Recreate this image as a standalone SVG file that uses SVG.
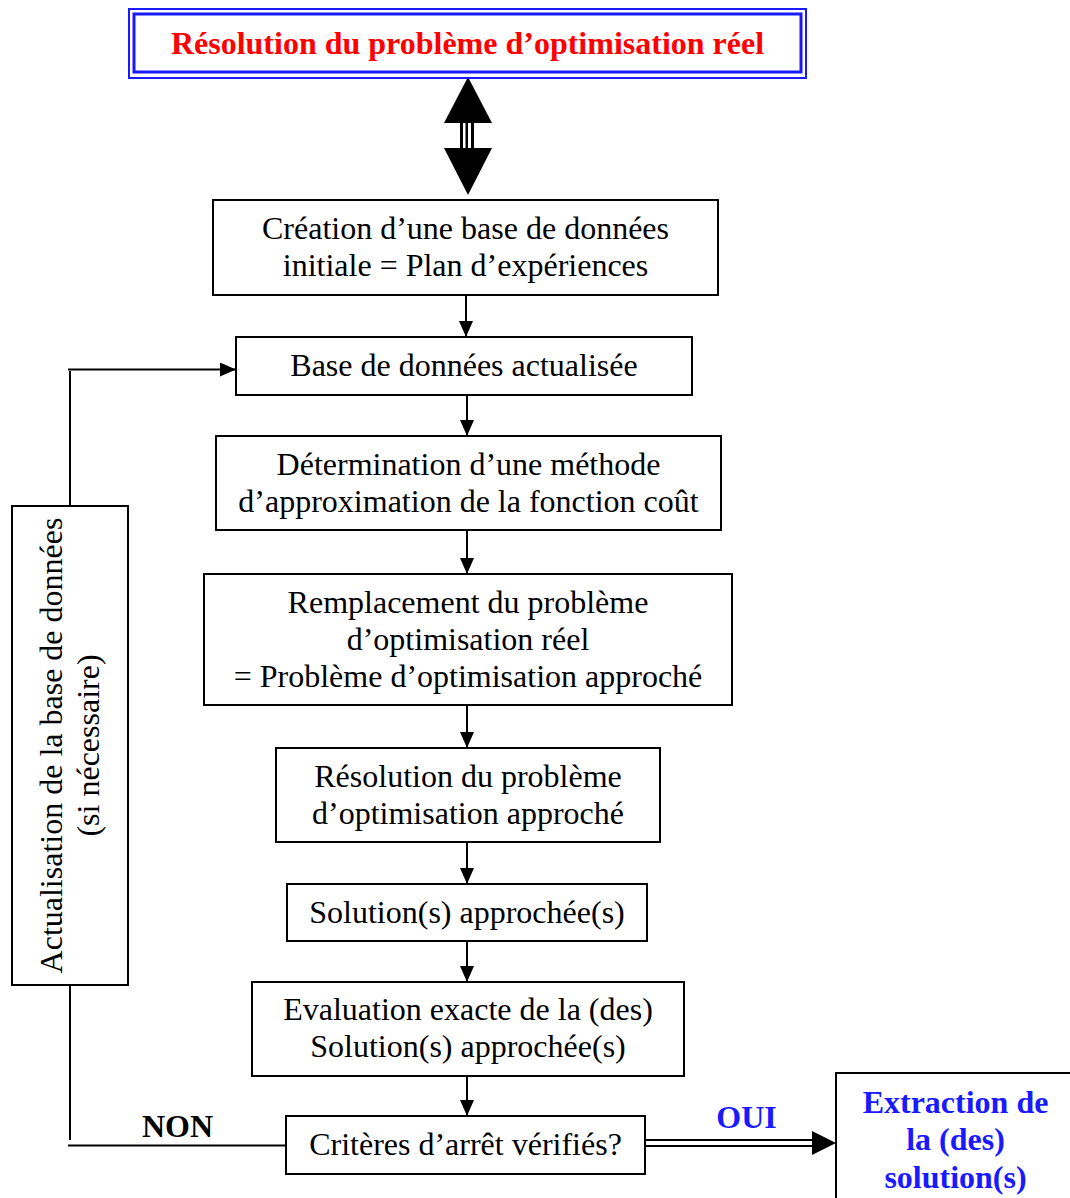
<svg xmlns="http://www.w3.org/2000/svg" width="1070" height="1198" viewBox="0 0 1070 1198">
<style>
  .box { fill: #ffffff; stroke: #000000; stroke-width: 2; }
  .t { font-family: "Liberation Serif", "Times New Roman", serif; font-size: 32px; fill: #000000; text-anchor: middle; }
  .b { font-weight: bold; }
  .red { fill: #ff0000; }
  .blue { fill: #1a1aff; }
  .line { fill: none; stroke: #000000; stroke-width: 2; }
  .head { fill: #000000; }
</style>
<defs>
  <marker id="arr" markerUnits="userSpaceOnUse" markerWidth="16" markerHeight="14" refX="16" refY="7" orient="auto">
    <path d="M0,0 L16,7 L0,14 z" fill="#000000"/>
  </marker>
</defs>
<rect width="1070" height="1198" fill="#ffffff"/>

<g id="connectors">
  <!-- double-headed arrow between title and first box -->
  <polygon class="head" points="468,77 444,123 492,123"/>
  <rect class="head" x="460" y="123" width="3" height="26"/>
  <rect class="head" x="465.5" y="123" width="2.5" height="26"/>
  <rect class="head" x="471" y="123" width="3" height="26"/>
  <polygon class="head" points="444,148 492,148 468,195"/>
  <!-- main flow -->
  <line class="line" x1="466" y1="295" x2="466" y2="337" marker-end="url(#arr)"/>
  <line class="line" x1="467" y1="395" x2="467" y2="436" marker-end="url(#arr)"/>
  <line class="line" x1="467" y1="530" x2="467" y2="574" marker-end="url(#arr)"/>
  <line class="line" x1="467" y1="705" x2="467" y2="748" marker-end="url(#arr)"/>
  <line class="line" x1="467" y1="842" x2="467" y2="884" marker-end="url(#arr)"/>
  <line class="line" x1="467" y1="941" x2="467" y2="982" marker-end="url(#arr)"/>
  <line class="line" x1="467" y1="1076" x2="467" y2="1116" marker-end="url(#arr)"/>
  <!-- feedback loop -->
  <line class="line" x1="70" y1="506" x2="70" y2="371"/>
  <line class="line" x1="68" y1="369.5" x2="236" y2="369.5" marker-end="url(#arr)"/>
  <line class="line" x1="70" y1="985" x2="70" y2="1140"/>
  <line class="line" x1="68" y1="1145.5" x2="286" y2="1145.5"/>
  <!-- OUI double arrow -->
  <line class="line" x1="645" y1="1140" x2="814" y2="1140"/>
  <line class="line" x1="645" y1="1146" x2="814" y2="1146"/>
  <polygon class="head" points="812,1131 836,1143 812,1155"/>
  <text class="t b" x="177.5" y="1137">NON</text>
  <text class="t b blue" x="746.5" y="1128">OUI</text>
</g>

<g id="title">
  <rect x="129" y="9" width="677" height="69" fill="#ffffff" stroke="#1a1aff" stroke-width="2"/>
  <rect x="134" y="14" width="667" height="58" fill="none" stroke="#1a1aff" stroke-width="3"/>
  <text class="t b red" x="467.5" y="54">Résolution du problème d’optimisation réel</text>
</g>

<g id="n1">
  <rect class="box" x="213" y="200" width="505" height="95"/>
  <text class="t" x="465.5" y="239">Création d’une base de données</text>
  <text class="t" x="465.5" y="276">initiale = Plan d’expériences</text>
</g>

<g id="n2">
  <rect class="box" x="236" y="337" width="456" height="58"/>
  <text class="t" x="464" y="376">Base de données actualisée</text>
</g>

<g id="n3">
  <rect class="box" x="216" y="436" width="505" height="94"/>
  <text class="t" x="468.5" y="474.5">Détermination d’une méthode</text>
  <text class="t" x="468.5" y="511.5">d’approximation de la fonction coût</text>
</g>

<g id="n4">
  <rect class="box" x="204" y="574" width="528" height="131"/>
  <text class="t" x="468" y="612.5">Remplacement du problème</text>
  <text class="t" x="468" y="649.5">d’optimisation réel</text>
  <text class="t" x="468" y="686.5">= Problème d’optimisation approché</text>
</g>

<g id="n5">
  <rect class="box" x="276" y="748" width="384" height="94"/>
  <text class="t" x="468" y="786.5">Résolution du problème</text>
  <text class="t" x="468" y="823.5">d’optimisation approché</text>
</g>

<g id="n6">
  <rect class="box" x="287" y="884" width="360" height="57"/>
  <text class="t" x="467" y="922.5">Solution(s) approchée(s)</text>
</g>

<g id="n7">
  <rect class="box" x="252" y="982" width="432" height="94"/>
  <text class="t" x="468" y="1020">Evaluation exacte de la (des)</text>
  <text class="t" x="468" y="1057">Solution(s) approchée(s)</text>
</g>

<g id="n8">
  <rect class="box" x="286" y="1116" width="359" height="58"/>
  <text class="t" x="465.5" y="1155">Critères d’arrêt vérifiés?</text>
</g>

<g id="n9">
  <rect class="box" x="836" y="1073" width="250" height="140"/>
  <text class="t b blue" x="955.5" y="1113">Extraction de</text>
  <text class="t b blue" x="955.5" y="1150">la (des)</text>
  <text class="t b blue" x="955.5" y="1188">solution(s)</text>
</g>

<g id="n10">
  <rect class="box" x="12" y="506" width="116" height="479"/>
  <text class="t" transform="translate(62,745.5) rotate(-90)">Actualisation de la base de données</text>
  <text class="t" transform="translate(99,745.5) rotate(-90)">(si nécessaire)</text>
</g>
</svg>
